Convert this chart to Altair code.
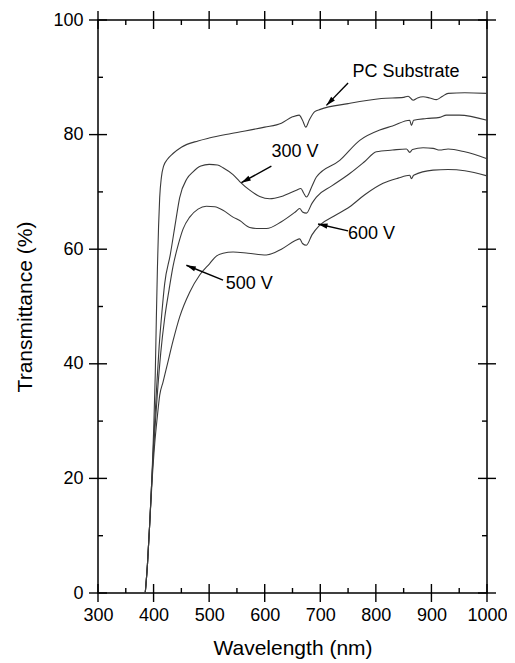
import math
import altair as alt
import pandas as pd

# ---- data ----
pc_nm = [385, 389, 393, 397, 400, 403, 405, 407, 409, 411, 414, 418, 425, 435, 450, 480, 500, 540,
         600, 630, 650, 662, 668, 674, 680, 690, 700, 750, 810, 850, 858, 867, 875, 885, 897, 909,
         920, 930, 960, 1000]
pc_T = [0, 5, 12, 20, 28, 38, 48, 57, 64, 69, 72.5, 74.5, 75.7, 76.7, 77.8, 78.9, 79.4, 80.2,
        81.3, 82.0, 83.1, 83.4, 82.5, 81.3, 82.5, 84.0, 84.4, 85.4, 86.3, 86.5, 86.7, 86.0, 86.4, 86.6,
        86.4, 86.1, 86.7, 87.2, 87.3, 87.2]

v300_nm = [385, 389, 393, 397, 401, 405, 410, 415, 420, 430, 440, 447, 460, 471, 485, 500, 515, 525,
           543, 555, 573, 591, 609, 630, 657, 665, 670, 675, 685, 693, 735, 771, 807, 830, 861, 864,
           868, 891, 915, 927, 950, 1000]
v300_T = [0, 5, 12, 20, 28, 35, 43, 49, 54, 59, 65, 69, 72.3, 73.5, 74.5, 74.8, 74.7, 74.2,
          73.0, 71.8, 70.3, 69.2, 68.8, 69.2, 70.3, 70.6, 69.8, 69.1, 71.0, 72.6, 75.5, 79.0, 80.8, 81.5, 82.5, 81.6,
          82.5, 82.8, 83.0, 83.4, 83.4, 82.5]

v500_nm = [385, 389, 393, 397, 402, 407, 413, 420, 428, 435, 445, 453, 465, 480, 495, 510, 525, 543,
           555, 573, 590, 603, 630, 655, 663, 668, 675, 685, 693, 720, 753, 780, 801, 830, 855, 861,
           866, 885, 903, 915, 930, 960, 1000]
v500_T = [0, 5, 12, 20, 28, 35, 42, 48, 53, 57, 61, 63.5, 65.6, 67.0, 67.5, 67.4, 66.8, 65.6,
          65.0, 63.8, 63.6, 63.6, 64.8, 66.5, 67.1, 66.5, 66.3, 68.0, 69.1, 71.0, 73.2, 75.3, 77.0, 77.3, 77.5, 76.9,
          77.4, 77.7, 77.6, 77.3, 77.5, 77.0, 75.8]

v600_nm = [385, 389, 393, 397, 402, 407, 411, 417, 425, 435, 447, 465, 483, 501, 513, 525, 543, 570,
           603, 630, 655, 663, 668, 675, 685, 699, 725, 753, 780, 813, 840, 861, 864, 868, 903, 930,
           960, 1000]
v600_T = [0, 5, 12, 19, 26, 31, 34.5, 36.8, 40, 44, 48.2, 52.5, 55.5, 57.5, 58.8, 59.3, 59.5, 59.3,
          59.0, 60.0, 61.5, 61.8, 61.0, 60.7, 62.5, 64.2, 65.8, 67.4, 69.5, 71.5, 72.4, 72.9, 72.3, 72.9, 73.8, 73.9,
          73.7, 72.8]

labels = ["PC Substrate", "300 V", "600 V", "500 V"]
label_nm = [758, 612, 750, 530]
label_T = [90.9, 77.0, 62.7, 53.9]
arrow_tail_nm = [750, 612, 750, 525]
arrow_tail_T = [89.0, 74.5, 63.2, 54.6]
arrow_tip_nm = [711, 558, 696, 459]
arrow_tip_T = [85.1, 71.6, 64.4, 57.2]

x_major = [300, 400, 500, 600, 700, 800, 900, 1000]
x_minor = [350, 450, 550, 650, 750, 850, 950]
y_major = [0, 20, 40, 60, 80, 100]
y_minor = [10, 30, 50, 70, 90]

# ---- build tables ----
W, H = 389, 573
XMIN, XMAX, YMIN, YMAX = 300, 1000, 0, 100
FONT = "Liberation Sans"

rows = []
for name, xs_, ys_ in [("PC Substrate", pc_nm, pc_T), ("300 V", v300_nm, v300_T),
                       ("500 V", v500_nm, v500_T), ("600 V", v600_nm, v600_T)]:
    for a, b in zip(xs_, ys_):
        rows.append({"series": name, "nm": a, "T": b})
curves = pd.DataFrame(rows)

ang = []
for x0, y0, x1, y1 in zip(arrow_tail_nm, arrow_tail_T, arrow_tip_nm, arrow_tip_T):
    dx = (x1 - x0) * W / (XMAX - XMIN)
    dy = -(y1 - y0) * H / (YMAX - YMIN)
    ang.append(math.degrees(math.atan2(dx, -dy)) % 360)

ann = pd.DataFrame({"label": labels, "lx": label_nm, "ly": label_T,
                    "tx": arrow_tail_nm, "ty": arrow_tail_T,
                    "hx": arrow_tip_nm, "hy": arrow_tip_T, "angle": ang})

xs = alt.Scale(domain=[XMIN, XMAX], nice=False, zero=False)
ys = alt.Scale(domain=[YMIN, YMAX], nice=False, zero=False)

lines = alt.Chart(curves).mark_line(color="#3a3a3a", strokeWidth=1.1, interpolate="monotone").encode(
    x=alt.X("nm:Q", scale=xs, title="Wavelength (nm)",
            axis=alt.Axis(values=x_major, format="d", ticks=False, domain=False, grid=False,
                          labelOverlap=False, labelFlush=False,
                          labelFontSize=18, labelPadding=13, labelFont=FONT, labelColor="black",
                          titleFontSize=21, titleFont=FONT, titleFontWeight="normal",
                          titleColor="black", titlePadding=13)),
    y=alt.Y("T:Q", scale=ys, title="Transmittance (%)",
            axis=alt.Axis(values=y_major, format="d", ticks=False, domain=False, grid=False,
                          labelOverlap=False, labelFlush=False,
                          labelFontSize=18, labelPadding=15, labelFont=FONT, labelColor="black",
                          titleFontSize=21, titleFont=FONT, titleFontWeight="normal",
                          titleColor="black", titlePadding=17)),
    detail="series:N",
)

shafts = alt.Chart(ann).mark_rule(color="black", strokeWidth=1.4).encode(
    x=alt.X("tx:Q", scale=xs), y=alt.Y("ty:Q", scale=ys),
    x2="hx:Q", y2="hy:Q")

heads = alt.Chart(ann).mark_point(
    shape="M0,0L0.55,2L-0.55,2Z", filled=True, color="black", opacity=1, size=90, strokeWidth=0
).encode(x=alt.X("hx:Q", scale=xs), y=alt.Y("hy:Q", scale=ys), angle=alt.Angle("angle:Q", scale=None))

texts = alt.Chart(ann).mark_text(align="left", baseline="middle", fontSize=18, font=FONT, color="black").encode(
    x=alt.X("lx:Q", scale=xs), y=alt.Y("ly:Q", scale=ys), text="label:N")

def xticks(vals, y0, y1):
    return alt.Chart(pd.DataFrame({"v": vals})).mark_rule(color="black", strokeWidth=1.4).encode(
        x=alt.X("v:Q", scale=xs), y=alt.value(y0), y2=alt.value(y1))

def yticks(vals, x0, x1):
    return alt.Chart(pd.DataFrame({"v": vals})).mark_rule(color="black", strokeWidth=1.4).encode(
        y=alt.Y("v:Q", scale=ys), x=alt.value(x0), x2=alt.value(x1))

M, m = 9, 5
ticks = [
    xticks(x_major, H - M, H + M), xticks(x_major, -M, M),
    xticks(x_minor, H - m, H), xticks(x_minor, 0, m),
    yticks(y_major, -M, M), yticks(y_major, W - M, W + M),
    yticks(y_minor, 0, m), yticks(y_minor, W - m, W),
]

chart = alt.layer(lines, shafts, heads, texts, *ticks).properties(
    width=W, height=H,
    autosize=alt.AutoSizeParams(type="none"),
    padding={"left": 90, "top": 12, "right": 20, "bottom": 74},
    background="white",
).configure_view(stroke="black", strokeWidth=1.5)

chart.save("out.html", embed_options={"renderer": "svg", "actions": False})
